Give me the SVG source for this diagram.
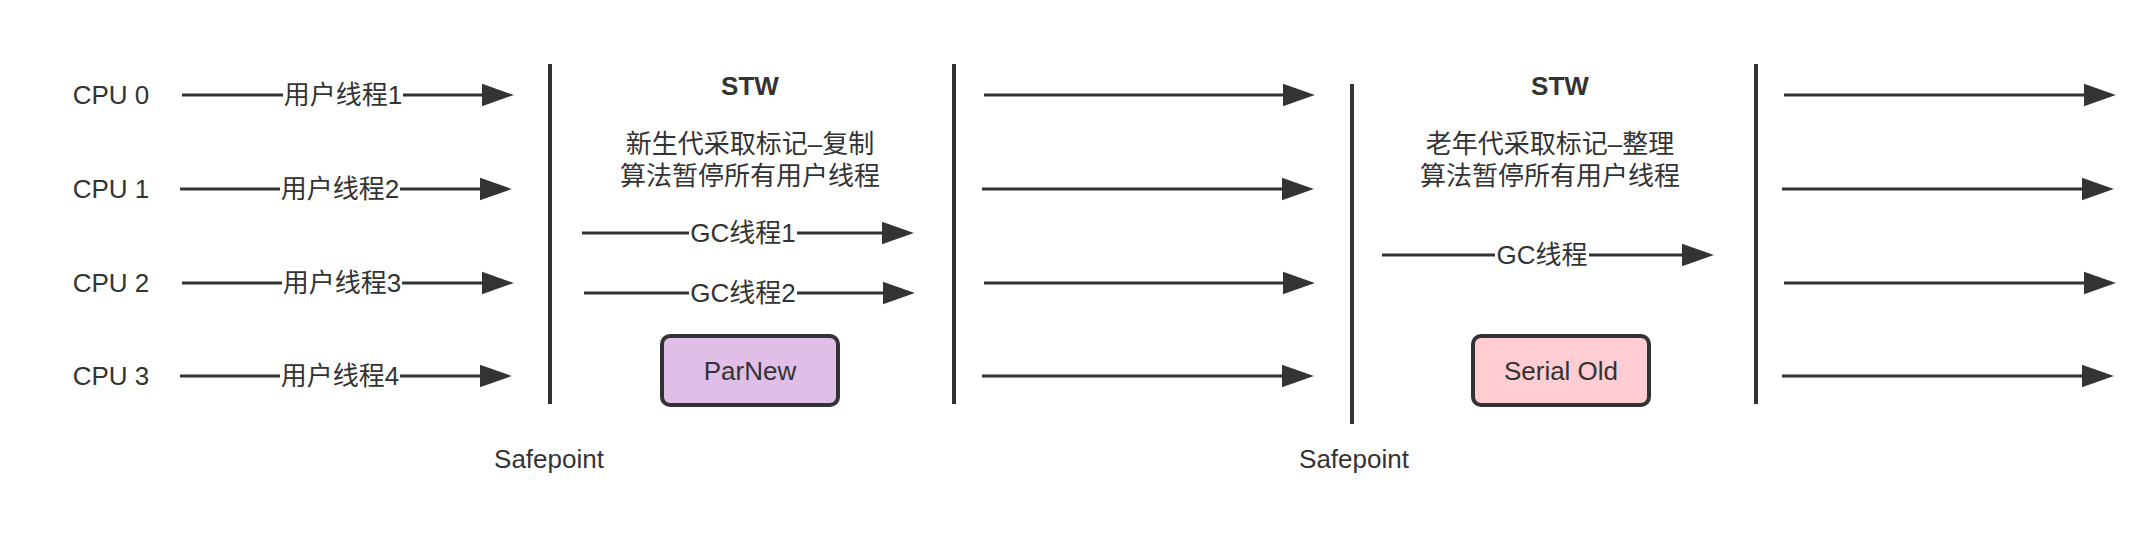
<svg xmlns="http://www.w3.org/2000/svg" width="2154" height="547" viewBox="0 0 2154 547">
<style>
text{font-family:"Liberation Sans","Noto Sans CJK SC",sans-serif;font-size:26px;fill:#333333;text-anchor:middle;dominant-baseline:central}
.b{font-weight:bold}
.ln{stroke:#333333;stroke-width:3;fill:none}
.sp{stroke:#333333;stroke-width:4;fill:none}
.lb{fill:#ffffff}
.box{stroke:#333333;stroke-width:4}
</style>
<defs>
<marker id="ah" markerUnits="userSpaceOnUse" markerWidth="32" markerHeight="24" viewBox="0 0 30 21" refX="2" refY="10.5" orient="auto">
<path d="M0,0 L30,10.5 L0,21 z" fill="#333333"/>
</marker>
</defs>
<rect width="2154" height="547" fill="#ffffff"/>

<g id="cpu-labels">
<text x="111" y="95">CPU 0</text>
<text x="111" y="189">CPU 1</text>
<text x="111" y="283">CPU 2</text>
<text x="111" y="376">CPU 3</text>
</g>

<g id="safepoints">
<line class="sp" x1="550" y1="64" x2="550" y2="404"/>
<line class="sp" x1="954" y1="64" x2="954" y2="404"/>
<line class="sp" x1="1352" y1="84" x2="1352" y2="424"/>
<line class="sp" x1="1756" y1="64" x2="1756" y2="404"/>
<text x="549" y="459">Safepoint</text>
<text x="1354" y="459">Safepoint</text>
</g>

<g id="connectors">
<line class="ln" x1="182" y1="95" x2="484" y2="95" marker-end="url(#ah)"/>
<line class="ln" x1="180" y1="189" x2="482" y2="189" marker-end="url(#ah)"/>
<line class="ln" x1="182" y1="283" x2="484" y2="283" marker-end="url(#ah)"/>
<line class="ln" x1="180" y1="376" x2="482" y2="376" marker-end="url(#ah)"/>

<line class="ln" x1="582" y1="233" x2="884" y2="233" marker-end="url(#ah)"/>
<line class="ln" x1="584" y1="293" x2="885" y2="293" marker-end="url(#ah)"/>

<line class="ln" x1="984" y1="95" x2="1285" y2="95" marker-end="url(#ah)"/>
<line class="ln" x1="982" y1="189" x2="1284" y2="189" marker-end="url(#ah)"/>
<line class="ln" x1="984" y1="283" x2="1285" y2="283" marker-end="url(#ah)"/>
<line class="ln" x1="982" y1="376" x2="1284" y2="376" marker-end="url(#ah)"/>

<line class="ln" x1="1382" y1="255" x2="1684" y2="255" marker-end="url(#ah)"/>

<line class="ln" x1="1784" y1="95" x2="2086" y2="95" marker-end="url(#ah)"/>
<line class="ln" x1="1782" y1="189" x2="2084" y2="189" marker-end="url(#ah)"/>
<line class="ln" x1="1784" y1="283" x2="2086" y2="283" marker-end="url(#ah)"/>
<line class="ln" x1="1782" y1="376" x2="2084" y2="376" marker-end="url(#ah)"/>

<rect class="lb" x="283" y="80" width="120" height="30"/>
<text x="343" y="95">用户线程1</text>
<rect class="lb" x="280" y="174" width="120" height="30"/>
<text x="340" y="189">用户线程2</text>
<rect class="lb" x="282" y="268" width="120" height="30"/>
<text x="342" y="283">用户线程3</text>
<rect class="lb" x="280" y="361" width="120" height="30"/>
<text x="340" y="376">用户线程4</text>

<rect class="lb" x="689" y="218" width="108" height="30"/>
<text x="743" y="233">GC线程1</text>
<rect class="lb" x="689" y="278" width="108" height="30"/>
<text x="743" y="293">GC线程2</text>
<rect class="lb" x="1495" y="240" width="94" height="30"/>
<text x="1542" y="255">GC线程</text>
</g>

<g id="stw-young">
<text class="b" x="750" y="86">STW</text>
<text x="750" y="144">新生代采取标记–复制</text>
<text x="750" y="176">算法暂停所有用户线程</text>
</g>

<g id="parnew">
<rect class="box" x="662" y="336" width="176" height="69" rx="8" fill="#E1BEE7"/>
<text x="750" y="371">ParNew</text>
</g>

<g id="stw-old">
<text class="b" x="1560" y="86">STW</text>
<text x="1550" y="144">老年代采取标记–整理</text>
<text x="1550" y="176">算法暂停所有用户线程</text>
</g>

<g id="serial-old">
<rect class="box" x="1473" y="336" width="176" height="69" rx="8" fill="#FFCDD2"/>
<text x="1561" y="371">Serial Old</text>
</g>
</svg>
